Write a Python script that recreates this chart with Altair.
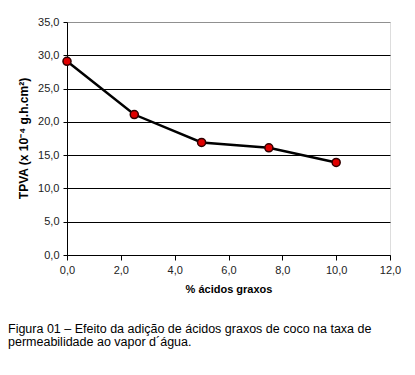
import altair as alt
import pandas as pd

acidos = [0.0, 2.5, 5.0, 7.5, 10.0]
tpva = [29.1, 21.1, 16.9, 16.1, 13.9]

caption_lines = [
    "Figura 01 – Efeito da adição de ácidos graxos de coco na taxa de",
    "permeabilidade ao vapor d´água.",
]

df = pd.DataFrame({"x": acidos, "y": tpva})
fmt = "replace(format(datum.value, '.1f'), '.', ',')"

xs = alt.Scale(domain=[0, 12], nice=False)
ys = alt.Scale(domain=[0, 35], nice=False)

x_axis = alt.Axis(
    values=[0, 2, 4, 6, 8, 10, 12], labelExpr=fmt, grid=False,
    labelOverlap=False, labelFlush=False, labelBound=False,
    domainColor="black", tickColor="black", tickSize=5,
    labelFont="Liberation Sans", labelFontSize=11, labelColor="#222222",
    labelPadding=4, title="% ácidos graxos", titleFont="Liberation Sans",
    titleFontSize=11, titleFontWeight="bold", titlePadding=8, titleColor="black",
)
y_axis = alt.Axis(
    values=[0, 5, 10, 15, 20, 25, 30, 35], labelExpr=fmt, grid=True,
    labelOverlap=False, labelFlush=False, labelBound=False,
    gridColor={"expr": "datum.value == 35 ? '#909090' : 'black'"},
    gridOpacity=1, gridWidth=1,
    domainColor="black", tickColor="black", tickSize=4,
    labelFont="Liberation Sans", labelFontSize=11, labelColor="#222222",
    labelPadding=4, title="TPVA (x 10⁻⁴ g.h.cm²)", titleFont="Liberation Sans",
    titleFontSize=12, titleFontWeight="bold", titleColor="black",
    titleX=-44, titleY=116, titleAngle=-90, titleAlign="center", titleBaseline="middle",
)

base = alt.Chart(df)
line = base.mark_line(color="black", strokeWidth=2.5).encode(
    x=alt.X("x:Q", scale=xs, axis=x_axis),
    y=alt.Y("y:Q", scale=ys, axis=y_axis),
)
pts = base.mark_point(filled=True, fill="#e00000", stroke="#300000", strokeWidth=1.5,
                      size=65, opacity=1, shape="circle").encode(
    x=alt.X("x:Q", scale=xs, axis=x_axis),
    y=alt.Y("y:Q", scale=ys, axis=y_axis),
)

cap_df = pd.DataFrame({"t": caption_lines, "row": [0, 1]})
cap1 = alt.Chart(cap_df).transform_filter("datum.row == 0").mark_text(
    align="left", baseline="alphabetic", font="Liberation Sans", fontSize=12.5, color="black"
).encode(text="t:N", x=alt.value(-59), y=alt.value(311))
cap2 = alt.Chart(cap_df).transform_filter("datum.row == 1").mark_text(
    align="left", baseline="alphabetic", font="Liberation Sans", fontSize=12.5, color="black"
).encode(text="t:N", x=alt.value(-59), y=alt.value(324))

chart = alt.layer(line, pts, cap1, cap2).properties(
    width=323, height=233,
    autosize=alt.AutoSizeParams(type="none"),
    padding={"left": 59, "top": 14, "right": 17, "bottom": 110},
).configure_view(stroke="#909090", strokeWidth=1).configure(background="white")

chart.save("out.html", embed_options={"renderer": "svg", "actions": False})
